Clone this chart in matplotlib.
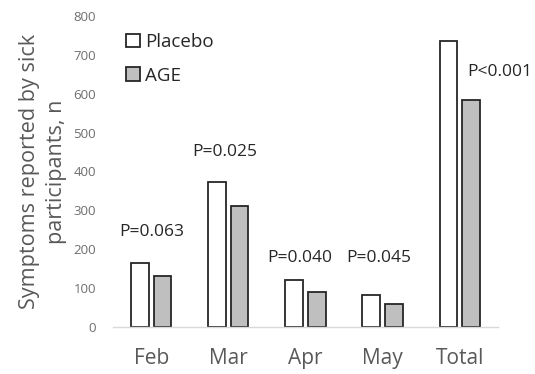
import matplotlib
matplotlib.use("Agg")
import matplotlib.pyplot as plt
import numpy as np

plt.rcParams["font.family"] = ["Open Sans", "DejaVu Sans"]

categories = ["Feb", "Mar", "Apr", "May", "Total"]
placebo = [164, 372, 121, 82, 736]
age = [131, 311, 89, 58, 584]
p_labels = ["P=0.063", "P=0.025", "P=0.040", "P=0.045", "P<0.001"]

# label anchor points (x offset from group centre, y in data units)
p_dx = [0.0, -0.05, -0.08, -0.05, 0.52]
p_y = [244, 450, 177, 177, 656]

GREY_TXT = "#595959"
EDGE = "#262626"

fig = plt.figure(figsize=(5.35, 3.74), dpi=100)
ax = fig.add_axes([0.211, 0.126, 0.72, 0.831])

x = np.arange(len(categories))
w, off = 0.23, 0.145
ax.bar(x - off, placebo, w, color="white", edgecolor=EDGE, linewidth=1.3, label="Placebo")
ax.bar(x + off, age, w, color="#bfbfbf", edgecolor=EDGE, linewidth=1.3, label="AGE")

for i, t in enumerate(p_labels):
    ax.text(x[i] + p_dx[i], p_y[i], t, ha="center", va="center", fontsize=12.5,
            color="#262626", clip_on=False)

ax.set_xlim(-0.5, 4.5)
ax.set_ylim(0, 800)
ax.set_yticks(range(0, 801, 100))
ax.set_xticks(x)
ax.set_xticklabels(categories)
ax.tick_params(axis="x", length=0, pad=15, labelsize=15, labelcolor=GREY_TXT)
ax.tick_params(axis="y", length=0, pad=12, labelsize=9.5, labelcolor="#6e6e6e")
for s in ("top", "right", "left"):
    ax.spines[s].set_visible(False)
ax.spines["bottom"].set_color("#d9d9d9")
ax.spines["bottom"].set_linewidth(1.0)

ax.set_ylabel("Symptoms reported by sick\nparticipants, n", fontsize=15.6,
              color=GREY_TXT, linespacing=1.35)
ax.yaxis.set_label_coords(-0.12, 0.5)

ax.legend(loc="upper left", bbox_to_anchor=(0.235, 0.912), bbox_transform=fig.transFigure,
          frameon=False, fontsize=13.5, handlelength=0.75, handleheight=0.75,
          handletextpad=0.3, labelspacing=0.85, borderpad=0, borderaxespad=0,
          labelcolor="#262626")

fig.savefig("out.png", dpi=100)
